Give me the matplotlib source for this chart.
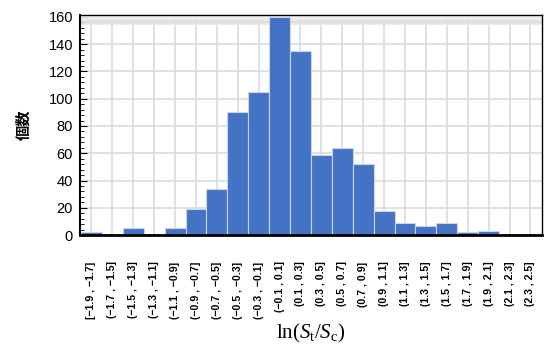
import numpy as np
import matplotlib.pyplot as plt
from matplotlib.ticker import MultipleLocator

plt.rcParams['font.family'] = ['Liberation Sans', 'Noto Sans CJK JP', 'DejaVu Sans']
plt.rcParams['mathtext.fontset'] = 'custom'
plt.rcParams['mathtext.rm'] = 'Liberation Serif'
plt.rcParams['mathtext.it'] = 'Liberation Serif:italic'

bin_edges = [-1.9, -1.7, -1.5, -1.3, -1.1, -0.9, -0.7, -0.5, -0.3, -0.1, 0.1,
             0.3, 0.5, 0.7, 0.9, 1.1, 1.3, 1.5, 1.7, 1.9, 2.1, 2.3, 2.5]
counts = [2, 0, 5, 1, 5, 19, 34, 90, 105, 160, 135, 59, 64, 52, 18, 9, 7, 9, 2, 3, 0, 1]


def fmt(v):
    s = f"{abs(v):.1f}"
    return ("\u2212" + s) if v < 0 else s


labels = []
for i in range(len(counts)):
    lo, hi = bin_edges[i], bin_edges[i + 1]
    open_br = "[" if i == 0 else "("
    labels.append(f"{open_br}{fmt(lo)} , {fmt(hi)}]")

fig = plt.figure(figsize=(5.46, 3.53), dpi=100)
ax = fig.add_axes([0.1465, 0.334, 0.846, 0.624])

x = np.arange(len(counts))
ax.bar(x, counts, width=1.0, color='#4472C4', edgecolor='#c9d6ee', linewidth=0.8, zorder=2)

ax.set_xlim(-0.55, len(counts) - 0.45)
ax.set_ylim(0, 161.5)
ax.set_xticks(x)
ax.set_xticklabels(labels, rotation=90, fontsize=7.6, fontweight='bold')
ax.yaxis.set_major_locator(MultipleLocator(20))
ax.yaxis.set_minor_locator(MultipleLocator(4))
ax.tick_params(axis='y', which='both', direction='in', labelsize=10.5, pad=5)
ax.tick_params(axis='y', which='major', length=5)
ax.tick_params(axis='y', which='minor', length=3)
ax.tick_params(axis='x', length=0, pad=19)

ax.grid(True, color='#dcdcdc', linewidth=1.2, zorder=0)
ax.set_axisbelow(True)

# shaded band at the top of the plot area
grad = np.concatenate([np.linspace(0.0, 1.0, 30), np.linspace(1.0, 0.6, 10)]).reshape(-1, 1)
ax.imshow(grad, cmap='Greys', vmin=0, vmax=4, aspect='auto',
          extent=(-0.55, len(counts) - 0.45, 154, 161.5), zorder=1, alpha=0.9)

for side in ['top', 'right']:
    ax.spines[side].set_linewidth(1.0)
ax.spines['left'].set_linewidth(1.5)
ax.spines['bottom'].set_linewidth(2.0)
for sp in ax.spines.values():
    sp.set_zorder(5)

ax.set_ylabel('個数', fontsize=11, fontweight='bold', family=['Noto Sans CJK JP'], labelpad=12)
ax.set_xlabel(r'ln($S_\mathrm{t}/S_\mathrm{c}$)', fontsize=15, family=['Liberation Serif'], labelpad=2)

fig.savefig('out.png', dpi=100)
